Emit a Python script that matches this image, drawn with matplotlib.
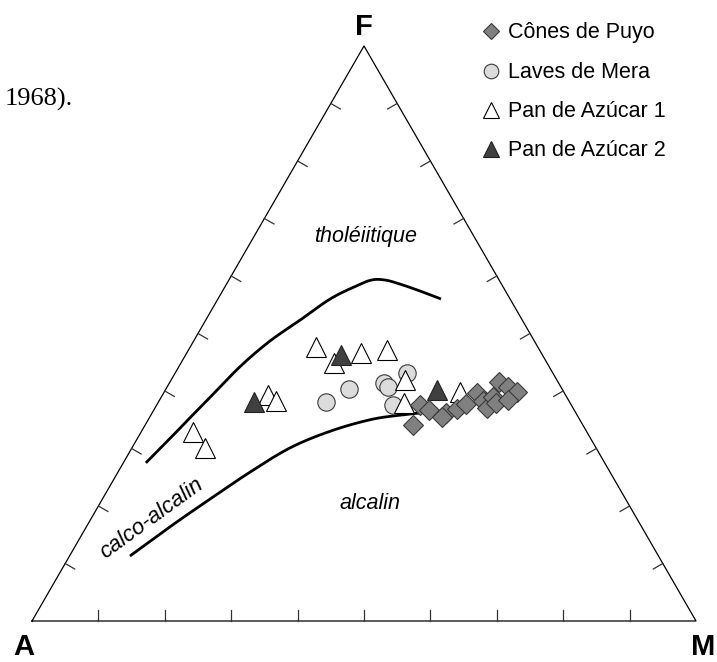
import numpy as np
import matplotlib
matplotlib.use("Agg")
import matplotlib.pyplot as plt

plt.rcParams["font.family"] = ["Liberation Sans", "DejaVu Sans"]

# compositions, as (A, F, M) in %
PUYO = [(22.8, 37.6, 39.7), (21.8, 36.7, 41.5), (25.6, 34.1, 40.3),
        (19.5, 36.2, 44.2), (20.6, 35.4, 44.0), (17.6, 36.9, 45.5),
        (15.8, 37.7, 46.5), (13.2, 39.6, 47.2), (12.9, 38.3, 48.8),
        (13.0, 37.0, 50.0), (11.0, 39.0, 50.0), (11.2, 37.9, 50.9),
        (8.8, 41.6, 49.6), (7.9, 40.8, 51.4), (7.1, 39.9, 53.1),
        (9.1, 38.4, 52.5)]
MERA = [(22.0, 43.1, 34.9), (26.3, 41.3, 32.3), (26.1, 40.7, 33.2),
        (32.1, 40.3, 27.6), (36.6, 38.1, 25.3), (26.9, 37.6, 35.5)]
PAN1 = [(33.4, 47.7, 18.9), (32.1, 44.9, 23.0), (27.2, 46.6, 26.2),
        (22.9, 47.1, 29.9), (22.9, 41.9, 35.2), (25.0, 37.9, 37.1),
        (15.6, 39.9, 44.5), (44.8, 39.3, 15.9), (44.1, 38.3, 17.6),
        (59.3, 32.9, 7.8), (58.8, 30.0, 11.1)]
PAN2 = [(30.4, 46.3, 23.4), (47.6, 38.0, 14.4), (19.0, 40.2, 40.9)]

# boundary curves (A, F, M)
THOL_CURVE = [(69.1, 27.5, 3.4), (63.4, 31.7, 4.9), (59.0, 35.0, 6.0),
              (54.4, 38.4, 7.2), (46.6, 44.2, 9.2), (39.8, 48.7, 11.5),
              (33.5, 52.3, 14.2), (27.1, 56.0, 16.9), (22.1, 58.3, 19.7),
              (19.2, 59.3, 21.5), (17.2, 59.3, 23.5), (15.3, 58.6, 26.1),
              (12.9, 57.4, 29.7), (10.4, 56.0, 33.6)]
ALK_CURVE = [(79.6, 11.3, 9.1), (71.0, 16.4, 12.6), (62.6, 21.2, 16.2),
             (54.2, 25.9, 19.9), (46.1, 30.1, 23.8), (38.6, 33.0, 28.4),
             (31.6, 35.0, 33.4), (26.7, 35.8, 37.5), (23.2, 36.2, 40.6)]

LABELS = ["Cônes de Puyo", "Laves de Mera", "Pan de Azúcar 1", "Pan de Azúcar 2"]

H = np.sqrt(3) / 2


def tern(pts):
    a, f, m = np.asarray(pts, float).T
    s = a + f + m
    return (m + 0.5 * f) / s, f / s * H


def pix(x, y):
    # image pixel -> axes data coordinates (A at 32,621 ; 664 px per unit)
    return (x - 32) / 664, (621 - y) / 664


def smooth(x, y, n=16):
    # Catmull-Rom pass through the digitised vertices, only for drawing
    P = np.column_stack([x, y])
    P = np.vstack([P[0], P, P[-1]])
    t = np.linspace(0, 1, n, endpoint=False)[:, None]
    out = []
    for i in range(1, len(P) - 2):
        p0, p1, p2, p3 = P[i - 1], P[i], P[i + 1], P[i + 2]
        out.append(0.5 * (2 * p1 + (p2 - p0) * t
                          + (2 * p0 - 5 * p1 + 4 * p2 - p3) * t ** 2
                          + (-p0 + 3 * p1 - 3 * p2 + p3) * t ** 3))
    out.append(P[-2][None])
    return np.vstack(out).T


fig = plt.figure(figsize=(7.17, 6.62), dpi=100)
ax = fig.add_axes([0, 0, 1, 1])
x0, y0 = pix(0, 662)
x1, y1 = pix(717, 0)
ax.set_xlim(x0, x1); ax.set_ylim(y0, y1)
ax.axis("off")

# frame + ticks
ax.plot([0, 1, 0.5, 0], [0, 0, H, 0], color="black", lw=0.9, zorder=1)
tl = 11 / 664
for t in np.arange(0.1, 0.95, 0.1):
    for (px_, py_), (nx, ny) in [((t, 0), (0, 1)),
                                 ((0.5 * t, H * t), (H, -0.5)),
                                 ((1 - 0.5 * t, H * t), (-H, -0.5))]:
        ax.plot([px_, px_ + nx * tl], [py_, py_ + ny * tl],
                color="#333333", lw=0.9, zorder=1)

for curve in (THOL_CURVE, ALK_CURVE):
    cx, cy = smooth(*tern(curve))
    ax.plot(cx, cy, color="black", lw=2.0, solid_capstyle="butt",
            solid_joinstyle="round", zorder=2)

styles = [
    dict(marker="D", ms=10, mfc="#808080", mec="#3a3a3a", mew=0.8),
    dict(marker="o", ms=12.5, mfc="#dcdcdc", mec="#3a3a3a", mew=0.8),
    dict(marker="^", ms=14, mfc="white", mec="black", mew=0.8),
    dict(marker="^", ms=14, mfc="#404040", mec="#222222", mew=0.8),
]
zord = [6, 3, 4, 5]
for data, st, z in zip((PUYO, MERA, PAN1, PAN2), styles, zord):
    px_, py_ = tern(data)
    ax.plot(px_, py_, ls="none", zorder=z, **st)

# legend
leg_ms = [8, 10.5, 12, 12]
for i, (lab, st, ms) in enumerate(zip(LABELS, styles, leg_ms)):
    yb = 38.3 + 39.2 * i
    st = dict(st, ms=ms)
    ax.plot(*pix(491, yb - 7), ls="none", **st)
    ax.text(*pix(508, yb), lab, fontsize=15.5, ha="left", va="baseline")

# vertex labels
ax.text(*pix(364, 35), "F", fontsize=21, fontweight="bold", ha="center", va="baseline")
ax.text(*pix(24, 655), "A", fontsize=21, fontweight="bold", ha="center", va="baseline")
ax.text(*pix(703, 655), "M", fontsize=21, fontweight="bold", ha="center", va="baseline")

# field names
ax.text(*pix(366, 242), "tholéiitique", fontsize=15.5, style="italic",
        ha="center", va="baseline")
ax.text(*pix(370, 509), "alcalin", fontsize=15.5, style="italic",
        ha="center", va="baseline")
ax.text(*pix(152, 519), "calco-alcalin", fontsize=16, style="italic",
        rotation=36, rotation_mode="anchor", ha="center", va="center")

ax.text(*pix(5, 106), "1968).", fontsize=19, family="Liberation Serif",
        ha="left", va="baseline")

fig.savefig("out.png", dpi=100)
